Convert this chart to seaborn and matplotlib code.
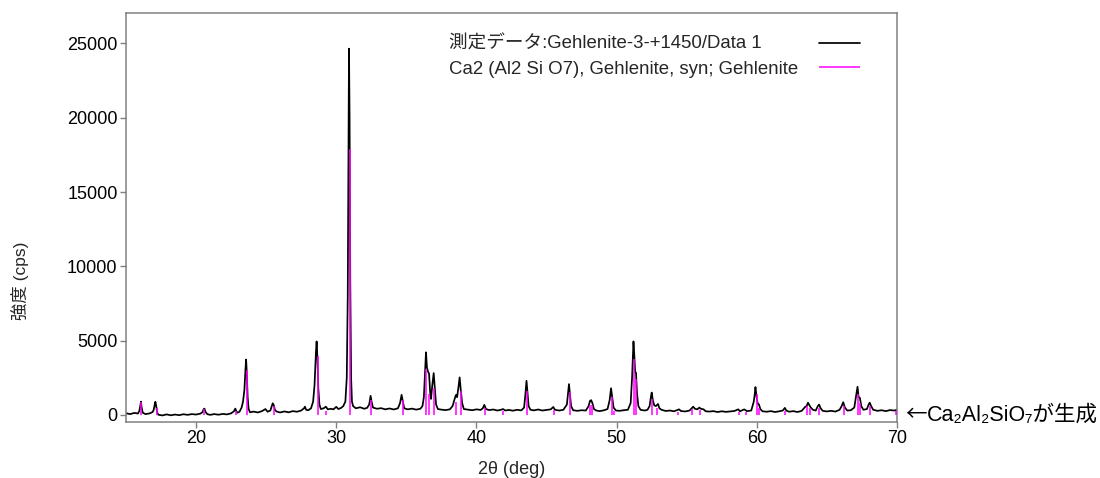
import matplotlib
matplotlib.use("Agg")
import matplotlib.pyplot as plt
from matplotlib.legend import Legend
import seaborn as sns
import numpy as np
import pandas as pd

sns.set_style("ticks")
plt.rcParams['font.family'] = ['Liberation Sans', 'DejaVu Sans', 'Noto Sans CJK JP']

scan_2theta = [
    15.0, 15.3, 15.6, 15.85, 15.95, 16.02, 16.07, 16.12, 16.2, 16.4, 16.7, 16.9,
    16.98, 17.05, 17.1, 17.16, 17.22, 17.3, 17.6, 17.9, 18.2, 18.5, 18.8, 19.1,
    19.4, 19.7, 20.0, 20.3, 20.45, 20.55, 20.6, 20.68, 20.8, 21.0, 21.3, 21.6,
    21.9, 22.2, 22.5, 22.7, 22.8, 22.88, 22.95, 23.1, 23.25, 23.35, 23.45, 23.52,
    23.57, 23.62, 23.68, 23.75, 23.85, 24.1, 24.4, 24.7, 24.95, 25.1, 25.3, 25.4,
    25.47, 25.55, 25.62, 25.75, 26.0, 26.3, 26.6, 26.9, 27.2, 27.5, 27.7, 27.77,
    27.85, 28.0, 28.2, 28.35, 28.45, 28.55, 28.6, 28.66, 28.72, 28.8, 28.9, 29.1,
    29.26, 29.4, 29.6, 29.8, 30.0, 30.15, 30.35, 30.5, 30.65, 30.75, 30.82, 30.87,
    30.91, 30.95, 31.0, 31.06, 31.12, 31.2, 31.4, 31.7, 32.0, 32.2, 32.35, 32.45,
    32.52, 32.62, 32.9, 33.2, 33.5, 33.8, 34.1, 34.4, 34.55, 34.66, 34.75, 34.85,
    35.1, 35.4, 35.7, 36.0, 36.15, 36.25, 36.33, 36.4, 36.47, 36.55, 36.62, 36.7,
    36.76, 36.85, 36.95, 37.03, 37.12, 37.25, 37.5, 37.8, 38.1, 38.3, 38.45, 38.54,
    38.62, 38.72, 38.8, 38.88, 38.98, 39.1, 39.4, 39.7, 40.0, 40.3, 40.45, 40.56,
    40.68, 40.9, 41.2, 41.5, 41.75, 41.9, 42.05, 42.3, 42.6, 42.9, 43.2, 43.4,
    43.5, 43.57, 43.64, 43.72, 43.85, 44.1, 44.4, 44.7, 45.0, 45.3, 45.48, 45.6,
    45.9, 46.2, 46.45, 46.54, 46.6, 46.67, 46.75, 46.9, 47.2, 47.5, 47.8, 48.0,
    48.1, 48.18, 48.27, 48.38, 48.55, 48.8, 49.1, 49.35, 49.5, 49.6, 49.68, 49.78,
    49.95, 50.2, 50.5, 50.8, 51.0, 51.1, 51.16, 51.2, 51.26, 51.32, 51.38, 51.45,
    51.55, 51.7, 52.0, 52.2, 52.35, 52.44, 52.5, 52.58, 52.68, 52.8, 52.95, 53.05,
    53.2, 53.5, 53.8, 54.1, 54.45, 54.6, 54.9, 55.2, 55.35, 55.46, 55.58, 55.75,
    55.9, 56.0, 56.2, 56.35, 56.6, 56.9, 57.2, 57.5, 57.8, 58.1, 58.4, 58.67,
    58.8, 59.1, 59.3, 59.6, 59.78, 59.85, 59.9, 59.97, 60.05, 60.15, 60.25, 60.4,
    60.7, 61.0, 61.3, 61.6, 61.85, 62.0, 62.1, 62.3, 62.6, 62.9, 63.2, 63.45,
    63.55, 63.65, 63.75, 63.85, 64.0, 64.2, 64.35, 64.44, 64.55, 64.7, 65.0, 65.3,
    65.6, 65.9, 66.05, 66.16, 66.28, 66.45, 66.7, 66.95, 67.08, 67.18, 67.26, 67.35,
    67.45, 67.6, 67.85, 67.97, 68.05, 68.15, 68.3, 68.6, 68.9, 69.2, 69.5, 69.8,
    70.0,
]
scan_cps = [
    120, 60, 140, 100, 250, 600, 900, 500, 150, 60, 110, 200,
    350, 700, 890, 600, 200, 20, -30, 40, -20, 30, -10, 50,
    10, 60, 30, 90, 180, 400, 430, 200, 60, 10, 60, 20,
    70, 40, 110, 250, 430, 250, 150, 220, 500, 900, 1700, 3000,
    3730, 2800, 1200, 400, 180, 230, 170, 260, 400, 220, 300, 600,
    790, 650, 350, 230, 170, 240, 180, 260, 220, 300, 450, 560,
    350, 320, 450, 900, 2000, 4200, 4950, 3800, 1800, 700, 400, 450,
    560, 380, 420, 380, 550, 400, 480, 600, 900, 2500, 8000, 18000,
    24650, 20000, 9000, 2500, 900, 600, 450, 520, 420, 480, 700, 1290,
    900, 500, 420, 460, 380, 440, 370, 450, 800, 1355, 900, 450,
    380, 430, 360, 420, 600, 1200, 2800, 4220, 3200, 2900, 2780, 1500,
    1080, 2000, 2820, 1800, 700, 400, 360, 330, 380, 600, 1100, 1350,
    1200, 1900, 2530, 1700, 800, 400, 360, 320, 380, 340, 450, 680,
    400, 330, 370, 300, 350, 400, 300, 340, 290, 350, 310, 500,
    1500, 2300, 1500, 600, 350, 310, 370, 300, 340, 380, 540, 350,
    300, 350, 700, 1500, 2080, 1400, 600, 320, 280, 320, 300, 600,
    950, 1000, 800, 400, 300, 260, 320, 400, 1000, 1800, 1200, 500,
    300, 280, 320, 350, 800, 2500, 4000, 4950, 4000, 2900, 2850, 1500,
    600, 350, 300, 350, 600, 1200, 1510, 1000, 650, 600, 740, 450,
    350, 270, 300, 250, 380, 260, 240, 300, 450, 560, 420, 380,
    500, 420, 380, 250, 230, 260, 200, 250, 210, 240, 270, 380,
    250, 380, 260, 300, 900, 1400, 1880, 1300, 800, 700, 400, 250,
    220, 260, 200, 250, 300, 480, 300, 220, 260, 200, 280, 550,
    600, 830, 650, 500, 350, 300, 600, 700, 450, 280, 240, 280,
    230, 350, 600, 860, 500, 300, 320, 500, 1300, 1900, 1200, 1150,
    600, 350, 400, 700, 830, 600, 350, 280, 320, 260, 330, 300,
    350,
]

# reference pattern sticks (Gehlenite card)
ref_2theta = [16.1, 17.18, 20.6, 22.85, 23.62, 25.57, 28.68, 29.3, 30.98, 32.5,
              34.76, 36.42, 36.61, 36.97, 38.54, 38.88, 40.6, 41.9, 43.6, 45.5,
              46.65, 48.1, 48.25, 49.66, 49.8, 51.25, 51.39, 52.53, 52.9, 54.4,
              55.4, 55.95, 58.7, 59.2, 60.0, 60.15, 62.0, 63.6, 63.8, 64.45,
              66.2, 67.2, 67.35, 68.1, 69.9]
ref_cps = [900, 500, 400, 300, 3050, 610, 4000, 300, 17900, 1000,
           1000, 3100, 1420, 1830, 900, 1630, 500, 250, 1630, 350,
           1560, 700, 700, 1200, 300, 3800, 2400, 1100, 500, 200,
           400, 350, 200, 200, 1420, 500, 300, 600, 500, 500,
           600, 1400, 800, 600, 300]

scan_label = "測定データ:Gehlenite-3-+1450/Data 1"
ref_label = "Ca2 (Al2 Si O7), Gehlenite, syn; Gehlenite"
note_arrow = "←"
note_text = "Ca₂Al₂SiO₇が生成"

df = pd.DataFrame({'two_theta': scan_2theta, 'cps': scan_cps})

fig = plt.figure(figsize=(11, 4.78), dpi=100)
ax = fig.add_axes([0.1145, 0.1172, 0.701, 0.8556])

sns.lineplot(data=df, x='two_theta', y='cps', color='black', linewidth=1.25,
             estimator=None, sort=False, ax=ax, label=scan_label, zorder=2)
ax.vlines(ref_2theta, 0, ref_cps, color='#ff00ff', linewidth=1.1, zorder=3,
          label=ref_label)

ax.set_xlim(15, 70)
ax.set_ylim(-470, 27050)
ax.set_xticks([20, 30, 40, 50, 60, 70])
ax.set_yticks([0, 5000, 10000, 15000, 20000, 25000])

for side in ['left', 'right', 'top', 'bottom']:
    ax.spines[side].set_color('#808080')
    ax.spines[side].set_linewidth(1.1)
ax.tick_params(axis='both', direction='out', length=4, width=1, color='#808080',
               labelsize=13, labelcolor='black', pad=2)

ax.set_xlabel('2θ (deg)', fontsize=13, labelpad=10)
ax.set_ylabel('強度 (cps)', fontsize=12.5)
ax.yaxis.set_label_coords(-0.126, 0.345)

# legend: text on the left, line sample on the right, texts left-aligned
handles, _ = ax.get_legend_handles_labels()
fs = 13.4
leg_kw = dict(loc='upper right', frameon=False, markerfirst=False, fontsize=fs,
              handlelength=2.2, borderpad=0, borderaxespad=0)
leg2 = ax.legend([handles[1]], [ref_label], bbox_to_anchor=(0.952, 0.883),
                 handletextpad=1.1, **leg_kw)
leg1 = Legend(ax, [handles[0]], [scan_label], bbox_to_anchor=(0.952, 0.944),
              handletextpad=1.1, **leg_kw)
ax.add_artist(leg1)
fig.canvas.draw()
renderer = fig.canvas.get_renderer()
w1 = leg1.get_texts()[0].get_window_extent(renderer).width
w2 = leg2.get_texts()[0].get_window_extent(renderer).width
leg1.remove()
em = fs * fig.dpi / 72
leg1 = Legend(ax, [handles[0]], [scan_label], bbox_to_anchor=(0.952, 0.944),
              handletextpad=1.1 + (w2 - w1) / em, **leg_kw)
ax.add_artist(leg1)

arrow = ax.text(1.0104, 0, note_arrow, transform=ax.get_yaxis_transform(),
                ha='left', va='center', fontsize=15.5, color='black',
                family=['Noto Sans CJK JP'])
ax.annotate(note_text, xy=(1, 0.5), xycoords=arrow, ha='left', va='center',
            fontsize=15.5, color='black', annotation_clip=False)

fig.savefig('out.png', dpi=100)
